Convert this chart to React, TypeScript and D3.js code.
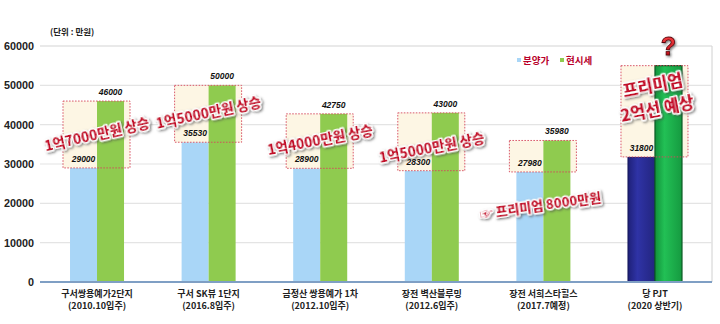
import React from "react";
import * as d3 from "d3";

const categoryNames = ["구서쌍용예가2단지", "구서 SK뷰 1단지", "금정산 쌍용예가 1차", "장전 벽산블루밍", "장전 서희스타힐스", "당 PJT"];
const categorySubs = ["(2010.10입주)", "(2016.8입주)", "(2012.10입주)", "(2012.6입주)", "(2017.7예정)", "(2020 상반기)"];
const salePrice = [29000, 35530, 28900, 28300, 27980, 31800];
const marketPrice = [46000, 50000, 42750, 43000, 35980, 55000];
const saleLabels = ["29000", "35530", "28900", "28300", "27980", "31800"];
const marketLabels = ["46000", "50000", "42750", "43000", "35980", ""];
const annotations = [
  ["1억7000만원 상승"],
  ["1억5000만원 상승"],
  ["1억4000만원 상승"],
  ["1억5000만원 상승"],
  ["☞ 프리미엄 8000만원"],
  ["프리미엄", "2억선 예상"],
];
const yTicks = [0, 10000, 20000, 30000, 40000, 50000, 60000];
const seriesNames = ["분양가", "현시세"];
const unitLabel = "(단위 : 만원)";

const W = 720;
const H = 324;
const KR = "'Noto Sans CJK KR', 'Noto Sans', sans-serif";
const NUM = "'Liberation Sans', Arial, sans-serif";

export default function App() {
  const x = d3
    .scaleBand<number>()
    .domain(d3.range(categoryNames.length))
    .range([41, 711])
    .paddingInner(0.516)
    .paddingOuter(0.26);
  const inner = d3.scaleBand<number>().domain([0, 1]).range([0, x.bandwidth()]);
  const y = d3.scaleLinear().domain([0, 60000]).range([282, 46]);

  const plotL = 40;
  const plotR = 712;
  const last = categoryNames.length - 1;

  // annotation placement tweaks (styling)
  const annDy = [0, -1, -1, 6, 0, -14];
  const annRot = [-13, -12, -11, -11, -8, -11];
  const annSize = [13.6, 13.6, 13.6, 13.6, 13, 16.5];

  return (
    <svg
      width={W}
      height={H}
      style={{ position: "absolute", left: 0, top: 0, background: "#fff" }}
      xmlns="http://www.w3.org/2000/svg"
    >
      <defs>
        <filter id="sh" x="-20%" y="-40%" width="140%" height="180%">
          <feDropShadow dx="1.2" dy="1.4" stdDeviation="0.9" floodColor="#444" floodOpacity="0.7" />
        </filter>
        <filter id="blur1">
          <feGaussianBlur stdDeviation="1.2" />
        </filter>
        <linearGradient id="navy" x1="0" x2="1" y1="0" y2="0">
          <stop offset="0" stopColor="#1e2078" />
          <stop offset="0.35" stopColor="#2f33a6" />
          <stop offset="1" stopColor="#23257f" />
        </linearGradient>
        <linearGradient id="emerald" x1="0" x2="1" y1="0" y2="0">
          <stop offset="0" stopColor="#12913a" />
          <stop offset="0.35" stopColor="#22c055" />
          <stop offset="1" stopColor="#159a40" />
        </linearGradient>
        <linearGradient id="qgrad" x1="0" x2="0" y1="0" y2="1">
          <stop offset="0" stopColor="#ff4a4a" />
          <stop offset="1" stopColor="#b00010" />
        </linearGradient>
      </defs>

      {/* frame shadow */}
      <line x1={plotR + 2} x2={plotR + 2} y1={y(60000) + 2} y2={y(0)} stroke="#bbb" strokeWidth={2} filter="url(#blur1)" />
      <line x1={plotR} x2={plotR} y1={y(60000)} y2={y(0)} stroke="#d0d0d0" strokeWidth={1} />

      {/* gridlines */}
      {yTicks.map((t) => (
        <line key={t} x1={plotL} x2={plotR} y1={y(t)} y2={y(t)} stroke={t === 60000 ? "#d4d4d4" : "#e4e4e4"} strokeWidth={1.2} />
      ))}

      {/* y tick labels */}
      {yTicks.map((t) => (
        <text
          key={"l" + t}
          x={34}
          y={y(t) + 3.9}
          textAnchor="end"
          fontFamily={NUM}
          fontWeight="bold"
          fontSize={10.8}
          fill="#222"
        >
          {t}
        </text>
      ))}

      {/* unit label */}
      <text x={50} y={35} fontFamily={KR} fontWeight="bold" fontSize={8.5} fill="#222">
        {unitLabel}
      </text>

      {/* legend */}
      <rect x={517} y={58} width={4} height={4} fill="#a9d6f7" />
      <text x={523} y={63.5} fontFamily={KR} fontWeight="bold" fontSize={9.5} fill="#b8002a">
        {seriesNames[0]}
      </text>
      <rect x={560} y={58} width={4} height={4} fill="#8fcb4f" />
      <text x={566} y={63.5} fontFamily={KR} fontWeight="bold" fontSize={9.5} fill="#b8002a">
        {seriesNames[1]}
      </text>

      {/* groups */}
      {categoryNames.map((name, i) => {
        const x0 = x(i)!;
        const bw = inner.bandwidth();
        const isLast = i === last;
        const boxL = x0 - 7;
        const boxR = x0 + x.bandwidth() + 6;
        const boxT = y(marketPrice[i]);
        const boxB = y(salePrice[i]);
        return (
          <g key={name}>
            <rect
              x={x0 + inner(0)!}
              y={y(salePrice[i])}
              width={bw}
              height={y(0) - y(salePrice[i])}
              fill={isLast ? "url(#navy)" : "#a9d6f7"}
              stroke={isLast ? "#14155a" : "none"}
              strokeWidth={isLast ? 1 : 0}
            />
            <rect x={boxL} y={boxT} width={boxR - boxL} height={boxB - boxT} fill="#fdf6e4" />
            <rect
              x={x0 + inner(1)!}
              y={y(marketPrice[i])}
              width={bw}
              height={y(0) - y(marketPrice[i])}
              fill={isLast ? "url(#emerald)" : "#8fcb4f"}
              stroke={isLast ? "#0b5a25" : "none"}
              strokeWidth={isLast ? 1.2 : 0}
            />
            <rect
              x={boxL}
              y={boxT}
              width={boxR - boxL}
              height={boxB - boxT}
              fill="none"
              stroke="#d5475c"
              strokeWidth={0.9}
              strokeDasharray="1.6,1.4"
            />
            <text
              x={x0 + inner(0)! + bw / 2}
              y={y(salePrice[i]) - 6}
              textAnchor="middle"
              fontFamily={NUM}
              fontWeight="bold"
              fontStyle="italic"
              fontSize={8.5}
              fill="#111"
            >
              {saleLabels[i]}
            </text>
            {marketLabels[i] && (
              <text
                x={x0 + inner(1)! + bw / 2}
                y={y(marketPrice[i]) - 6}
                textAnchor="middle"
                fontFamily={NUM}
                fontWeight="bold"
                fontStyle="italic"
                fontSize={8.5}
                fill="#111"
              >
                {marketLabels[i]}
              </text>
            )}
            <text
              x={x0 + x.bandwidth() / 2}
              y={297}
              textAnchor="middle"
              fontFamily={KR}
              fontWeight="bold"
              fontSize={9}
              fill="#222"
            >
              {name}
            </text>
            <text
              x={x0 + x.bandwidth() / 2}
              y={309}
              textAnchor="middle"
              fontFamily={KR}
              fontWeight="bold"
              fontSize={9}
              fill="#222"
            >
              {categorySubs[i]}
            </text>
          </g>
        );
      })}

      {/* axis line */}
      <line x1={plotL} x2={plotR + 2} y1={y(0) + 2.5} y2={y(0) + 2.5} stroke="#9aa" strokeWidth={2} filter="url(#blur1)" />
      <line x1={plotL} x2={plotR} y1={y(0)} y2={y(0)} stroke="#7f9fc4" strokeWidth={2.2} />

      {/* annotations */}
      {annotations.map((lines, i) => {
        const cx = x(i)! + x.bandwidth() / 2 + (i === 4 ? -3 : 0);
        const cyBase = i === 4 ? y(19500) : y((salePrice[i] + marketPrice[i]) / 2);
        const cy = cyBase + annDy[i];
        const fs = annSize[i];
        const lh = fs * 1.45;
        return (
          <g key={"a" + i} transform={`translate(${cx},${cy}) rotate(${annRot[i]})`} filter="url(#sh)">
            {lines.map((ln, j) => (
              <text
                key={j}
                x={0}
                y={(j - (lines.length - 1) / 2) * lh + fs * 0.36}
                textAnchor="middle"
                fontFamily={KR}
                fontWeight="900"
                fontSize={fs}
                fill="#c4102c"
                stroke="#fff"
                strokeWidth={2.8}
                paintOrder="stroke"
                strokeLinejoin="round"
              >
                {ln}
              </text>
            ))}
          </g>
        );
      })}

      {/* question mark */}
      <text
        x={x(last)! + inner(1)! + inner.bandwidth() / 2}
        y={55}
        textAnchor="middle"
        fontFamily={NUM}
        fontWeight="bold"
        fontSize={25}
        fill="url(#qgrad)"
        stroke="#5a0008"
        strokeWidth={0.8}
        filter="url(#sh)"
      >
        ?
      </text>
    </svg>
  );
}
